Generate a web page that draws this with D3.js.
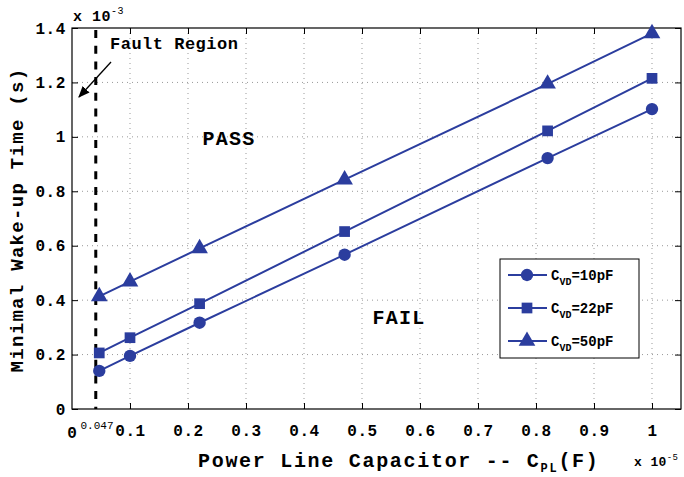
<!DOCTYPE html>
<html><head><meta charset="utf-8">
<script src="https://cdn.jsdelivr.net/npm/d3@7"></script>
<style>body{margin:0;background:#fff}svg{display:block}text{font-family:"Liberation Mono","Courier New",monospace;font-weight:bold}</style>
</head><body><svg id="c" width="684" height="477"></svg>
<script>
const xs = [0.047, 0.1, 0.22, 0.47, 0.82, 1.0];
const s10 = [0.14, 0.195, 0.317, 0.567, 0.922, 1.102];
const s22 = [0.206, 0.262, 0.387, 0.652, 1.022, 1.215];
const s50 = [0.414, 0.468, 0.590, 0.843, 1.195, 1.380];
const seriesNames = ["10pF", "22pF", "50pF"];
const xTicks = [0.1,0.2,0.3,0.4,0.5,0.6,0.7,0.8,0.9,1];
const yTicks = [0,0.2,0.4,0.6,0.8,1,1.2,1.4];
const faultX = 0.041;

const svg = d3.select("#c");
const L=72,R=681,T=28,B=409;
const x = d3.scaleLinear().domain([0,1.05]).range([L,R]);
const y = d3.scaleLinear().domain([0,1.4]).range([B,T]);
const col = "#2b3d9e";

// grid
const g = svg.append("g");
g.selectAll(".gx").data(xTicks).join("line").attr("x1",d=>x(d)).attr("x2",d=>x(d)).attr("y1",T).attr("y2",B)
 .attr("stroke","#999").attr("stroke-width",1).attr("stroke-dasharray","1,4");
g.selectAll(".gy").data(yTicks.slice(1,-1)).join("line").attr("y1",d=>y(d)).attr("y2",d=>y(d)).attr("x1",L).attr("x2",R)
 .attr("stroke","#999").attr("stroke-width",1).attr("stroke-dasharray","1,4");

// axes
const xa = svg.append("g").attr("transform",`translate(0,${B})`).call(d3.axisBottom(x).tickValues(xTicks).tickSize(-6).tickPadding(16).tickFormat(d=>d===1?"1":d3.format(".1f")(d)));
const xaT = svg.append("g").attr("transform",`translate(0,${T})`).call(d3.axisTop(x).tickValues(xTicks).tickSize(-6).tickFormat(""));
const ya = svg.append("g").attr("transform",`translate(${L},0)`).call(d3.axisLeft(y).tickValues(yTicks).tickSize(-6).tickPadding(6).tickFormat(d=>d===0?"0":(d===1?"1":d3.format(".1f")(d))));
const yaR = svg.append("g").attr("transform",`translate(${R},0)`).call(d3.axisRight(y).tickValues(yTicks).tickSize(-6).tickFormat(""));
[xa,xaT,ya,yaR].forEach(a=>{a.select(".domain").remove();a.selectAll("line").attr("stroke","#000");a.selectAll("text").attr("font-size",16).attr("fill","#000").style("font-family","Liberation Mono").style("font-weight","bold").style("letter-spacing","0.6px");});
svg.append("rect").attr("x",L).attr("y",T).attr("width",R-L).attr("height",B-T).attr("fill","none").attr("stroke","#000").attr("stroke-width",1.2);

// x=0 label and 0.047
svg.append("text").attr("x",x(0)).attr("y",B+29).attr("text-anchor","middle").attr("font-size",16).text("0");
svg.append("text").attr("x",97).attr("y",B+20).attr("text-anchor","middle").attr("font-size",11).style("font-weight","normal").text("0.047");

// dashed fault line
svg.append("line").attr("x1",x(faultX)).attr("x2",x(faultX)).attr("y1",T+2).attr("y2",B).attr("stroke","#000").attr("stroke-width",3).attr("stroke-dasharray","8,7.7");

// exponent labels
const e1 = svg.append("text").attr("x",L+1).attr("y",21).attr("font-size",15).style("letter-spacing","0.5px");
e1.append("tspan").text("x 10");
e1.append("tspan").attr("dy",-7).attr("font-size",10).style("font-weight","normal").text("-3");
const e2 = svg.append("text").attr("x",634).attr("y",466).attr("font-size",13).style("letter-spacing","0.4px");
e2.append("tspan").text("x 10");
e2.append("tspan").attr("dy",-6).attr("font-size",9).style("font-weight","normal").text("-5");

// axis labels
svg.append("text").attr("transform",`translate(23,${220}) rotate(-90)`).attr("text-anchor","middle").attr("font-size",19).style("letter-spacing","1.3px").text("Minimal Wake-up Time (s)");
const xl = svg.append("text").attr("x",198).attr("y",467).attr("font-size",20).style("letter-spacing","1.7px");
xl.append("tspan").text("Power Line Capacitor -- C");
xl.append("tspan").attr("dy",5).attr("font-size",12).text("PL");
xl.append("tspan").attr("dy",-5).text("(F)");

// annotations
svg.append("text").attr("x",110).attr("y",49).attr("font-size",17).style("letter-spacing","0.5px").text("Fault Region");
svg.append("defs").append("marker").attr("id","ar").attr("viewBox","0 0 10 10").attr("refX",9).attr("refY",5).attr("markerWidth",9).attr("markerHeight",9).attr("orient","auto")
 .append("path").attr("d","M0,1 L10,5 L0,9 Z").attr("fill","#000");
svg.append("line").attr("x1",111).attr("y1",62).attr("x2",79).attr("y2",97).attr("stroke","#000").attr("stroke-width",1.3).attr("marker-end","url(#ar)");
svg.append("text").attr("x",229).attr("y",145).attr("text-anchor","middle").attr("font-size",20).style("letter-spacing","1.3px").text("PASS");
svg.append("text").attr("x",399).attr("y",324).attr("text-anchor","middle").attr("font-size",20).style("letter-spacing","1.3px").text("FAIL");

// series
const all = [s10,s22,s50];
const line = d3.line().x((d,i)=>x(xs[i])).y(d=>y(d));
const sym = [d3.symbolCircle,d3.symbolSquare,d3.symbolTriangle];
const sizes = [120,115,120];
all.forEach((s,k)=>{
  svg.append("path").attr("d",line(s)).attr("fill","none").attr("stroke",col).attr("stroke-width",2);
  svg.selectAll(null).data(s).join("path").attr("transform",(d,i)=>`translate(${x(xs[i])},${y(d)})`)
    .attr("d",d3.symbol().type(sym[k]).size(sizes[k])).attr("fill",col);
});

// legend
const lg = svg.append("g");
lg.append("rect").attr("x",500).attr("y",259).attr("width",139).attr("height",99).attr("fill","#fff").attr("stroke","#000").attr("stroke-width",1);
seriesNames.forEach((n,k)=>{
  const yy = 275+k*33;
  lg.append("line").attr("x1",508).attr("x2",547).attr("y1",yy).attr("y2",yy).attr("stroke",col).attr("stroke-width",2);
  lg.append("path").attr("transform",`translate(527,${yy})`).attr("d",d3.symbol().type(sym[k]).size(sizes[k])).attr("fill",col);
  const t = lg.append("text").attr("x",551).attr("y",yy+5).attr("font-size",14);
  t.append("tspan").text("C");
  t.append("tspan").attr("dy",5).attr("font-size",10).text("VD");
  t.append("tspan").attr("dy",-5).text("="+n);
});
</script></body></html>
